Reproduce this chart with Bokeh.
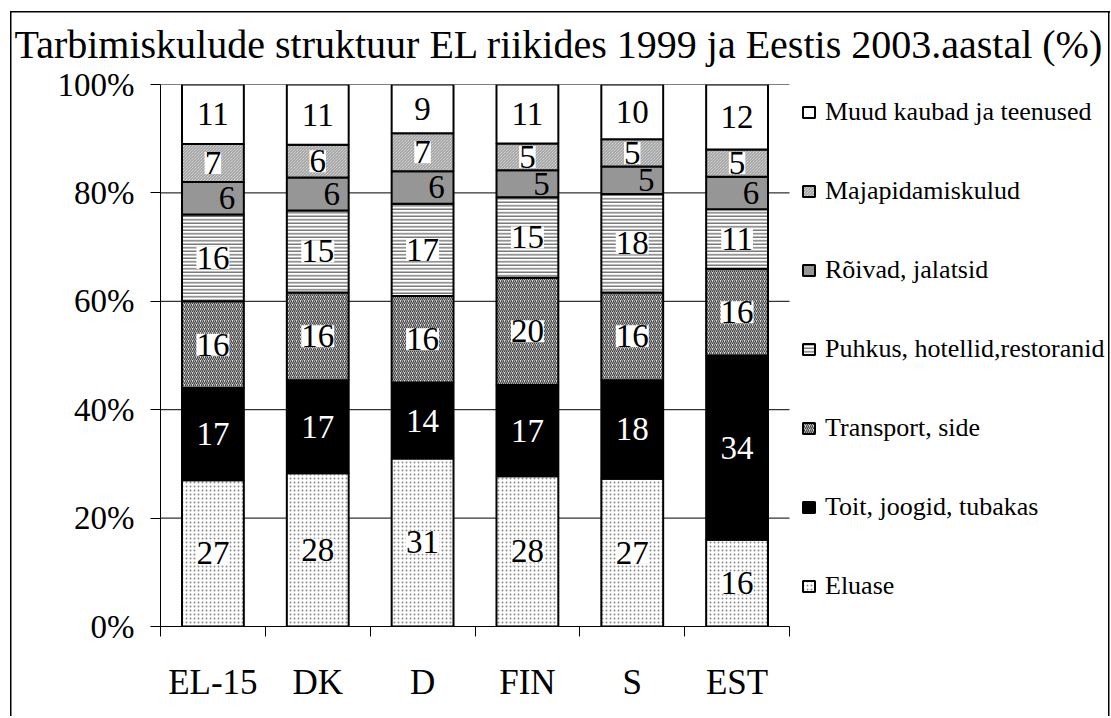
import numpy as np
from bokeh.plotting import figure
from bokeh.models import (ColumnDataSource, FixedTicker, PrintfTickFormatter,
                          Legend, LegendItem, LabelSet, Range1d)
from bokeh.embed import file_html
from bokeh.resources import INLINE

# ---------------- data ----------------
categories = ["EL-15", "DK", "D", "FIN", "S", "EST"]
series_names = ["Eluase", "Toit, joogid, tubakas", "Transport, side",
                "Puhkus, hotellid,restoranid", "Rõivad, jalatsid",
                "Majapidamiskulud", "Muud kaubad ja teenused"]
eluase = [27, 28, 31, 28, 27, 16]
toit = [17, 17, 14, 17, 18, 34]
transport = [16, 16, 16, 20, 16, 16]
puhkus = [16, 15, 17, 15, 18, 11]
roivad = [6, 6, 6, 5, 5, 6]
majapidamis = [7, 6, 7, 5, 5, 5]
muud = [11, 11, 9, 11, 10, 12]
y_ticks = [0, 20, 40, 60, 80, 100]
title_text = "Tarbimiskulude struktuur EL riikides 1999 ja Eestis 2003.aastal (%)"

FONT = "Liberation Serif"

values = np.array([eluase, toit, transport, puhkus, roivad, majapidamis, muud], dtype=float)
totals = values.sum(axis=0)
shares = values / totals * 100.0
tops = np.cumsum(shares, axis=0)
bottoms = tops - shares
n = len(categories)
xs = np.arange(n) + 0.5

styles = [
    dict(fill_color="white", hatch_pattern="dot", hatch_color="#8a8a8a", hatch_scale=4, hatch_weight=1),
    dict(fill_color="black"),
    dict(fill_color="#dedede", hatch_pattern="right_diagonal_line", hatch_color="#404040", hatch_scale=4, hatch_weight=1.2),
    dict(fill_color="white", hatch_pattern="horizontal_line", hatch_color="#5a5a5a", hatch_scale=3.5, hatch_weight=1.2),
    dict(fill_color="#969696"),
    dict(fill_color="#eeeeee", hatch_pattern="left_diagonal_line", hatch_color="#909090", hatch_scale=3, hatch_weight=1),
    dict(fill_color="white"),
]

# plot area: 629 px for the 6 categories, the remaining frame width holds the legend
W, H = 1111, 716
LEFT, TOP, BOTTOM = 160, 84, 90
frame_w = W - LEFT - 1
x_end = n * frame_w / 629.0

p = figure(width=W, height=H, x_range=Range1d(0, x_end), y_range=Range1d(0, 100),
           output_backend="svg", toolbar_location=None,
           min_border_left=LEFT, min_border_right=1, min_border_top=TOP,
           min_border_bottom=BOTTOM, title=title_text)
# outer frame of the chart (drawn behind the transparent canvas)
p.styles = {
    "background-color": "white",
    "background-image": "linear-gradient(#000,#000), linear-gradient(#000,#000), linear-gradient(#000,#000)",
    "background-size": "1100px 1.5px, 1.5px 710px, 1.5px 710px",
    "background-position": "10px 11px, 10px 11px, 1108px 11px",
    "background-repeat": "no-repeat",
}
p.outline_line_color = None
p.background_fill_color = None
p.border_fill_color = None

p.title.text_font = FONT
p.title.text_font_size = "40px"
p.title.text_font_style = "normal"
p.title.text_color = "black"
p.title.align = "left"
p.title.offset = -146
p.title.vertical_align = "middle"
p.title.standoff = 34

p.xgrid.visible = False
p.ygrid.visible = False
# horizontal grid lines across the bar area only
p.segment(x0=0, x1=n, y0=y_ticks, y1=y_ticks, line_color="black", line_width=1)

yax = p.yaxis[0]
yax.ticker = FixedTicker(ticks=y_ticks)
yax.formatter = PrintfTickFormatter(format="%d%%")
yax.major_tick_in = 0
yax.major_tick_out = 10
yax.minor_tick_line_color = None
yax.axis_line_color = "black"
yax.major_tick_line_color = "black"
yax.major_label_text_font = FONT
yax.major_label_text_font_size = "33px"
yax.major_label_text_color = "black"
yax.major_label_standoff = 16

xax = p.xaxis[0]
xax.bounds = (0, n)
xax.ticker = FixedTicker(ticks=list(xs), minor_ticks=list(range(n + 1)))
xax.major_label_overrides = {float(x): c for x, c in zip(xs, categories)}
xax.major_tick_in = 0
xax.major_tick_out = 0
xax.minor_tick_in = 0
xax.minor_tick_out = 10
xax.minor_tick_line_color = "black"
xax.axis_line_color = "black"
xax.major_label_text_font = FONT
xax.major_label_text_font_size = "35px"
xax.major_label_text_color = "black"
xax.major_label_standoff = 26

renderers = []
sources = []
for i, name in enumerate(series_names):
    src = ColumnDataSource(dict(x=xs, bottom=bottoms[i], top=tops[i],
                                mid=(bottoms[i] + tops[i]) / 2.0,
                                label=[str(int(v)) for v in values[i]]))
    r = p.vbar(x="x", bottom="bottom", top="top", width=0.59, source=src,
               line_color="black", line_width=2, **styles[i])
    renderers.append(r)
    sources.append(src)

# labels
for i, src in enumerate(sources):
    kw = dict(x="x", y="mid", text="label", source=src, text_align="center",
              text_baseline="middle", text_font=FONT, text_font_size="33px")
    if i == 1:
        kw.update(text_color="white")
    elif i == 4:
        kw.update(text_color="black", x_offset=14)
    elif i == 6:
        kw.update(text_color="black")
    else:
        kw.update(text_color="black", background_fill_color="white")
    p.add_layout(LabelSet(**kw))

items = [LegendItem(label=series_names[i], renderers=[renderers[i]])
         for i in reversed(range(len(series_names)))]
legend = Legend(items=items, location=(641, 25))
legend.glyph_width = 15
legend.glyph_height = 14
legend.label_height = 31
legend.spacing = 48
legend.padding = 0
legend.margin = 0
legend.label_standoff = 9
legend.background_fill_alpha = 0
legend.border_line_color = None
legend.label_text_font = FONT
legend.label_text_font_size = "26px"
legend.label_text_color = "black"
p.add_layout(legend)

open("out.html", "w").write(file_html(p, INLINE))
